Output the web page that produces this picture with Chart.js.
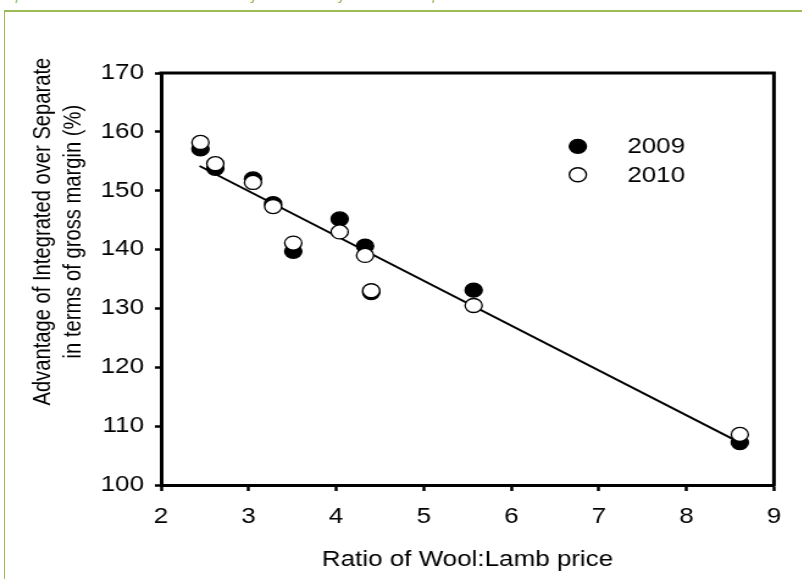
<!DOCTYPE html>
<html>
<head>
<meta charset="utf-8">
<script src="https://cdn.jsdelivr.net/npm/chart.js@4/dist/chart.umd.min.js"></script>
<style>
  html, body { margin: 0; padding: 0; background: #ffffff; }
  #page { position: relative; width: 802px; height: 579px; overflow: hidden; background: #ffffff; }
  #caption { position: absolute; left: 0px; top: -19px; font: italic 17px "Open Sans", sans-serif; color: #9bbb59; white-space: nowrap; }
  #frame { position: absolute; left: 4px; top: 10px; width: 1000px; height: 1000px; border-top: 2px solid #9bbb59; border-left: 1.5px solid #9bbb59; }
  #wrap { position: absolute; left: 0; top: 0; width: 658px; height: 579px; transform: scaleX(1.22); transform-origin: 0 0; }
  canvas { display: block; }
</style>
</head>
<body>
<div id="page">
  <div id="caption">separate scenarios at each level of the ratio of wool:lamb price used.</div>
  <div id="frame"></div>
  <div id="wrap"><canvas id="c" width="658" height="579"></canvas></div>
</div>
<script>
// ---- data ----
const ratioX      = [2.45, 2.62, 3.05, 3.28, 3.51, 4.04, 4.33, 4.40, 5.57, 8.61];
const adv2009     = [157.1, 153.8, 152.0, 147.8, 139.7, 145.2, 140.6, 132.7, 133.1, 107.2];
const adv2010     = [158.2, 154.6, 151.4, 147.3, 141.1, 143.0, 139.0, 133.0, 130.5, 108.6];
const trendX      = [2.44, 8.61];
const trendY      = [154.2, 107.2];
const seriesNames = ['2009', '2010'];
const xTitle      = 'Ratio of Wool:Lamb price';
const yTitleLines = ['Advantage of Integrated over Separate', 'in terms of gross margin (%)'];

const FONT = '"Liberation Sans", Arial, sans-serif';
const FS = 21.3;
const FS_YT = 20.2;

const pts = (xs, ys) => xs.map((x, i) => ({ x: x, y: ys[i] }));

const frameBox = {
  id: 'frameBox',
  afterDatasetsDraw(chart) {
    const { ctx, chartArea: a } = chart;
    ctx.save();
    ctx.strokeStyle = '#000';
    ctx.lineWidth = 3;
    ctx.beginPath();
    ctx.moveTo(a.left - 1.5, a.top);
    ctx.lineTo(a.right, a.top);
    ctx.lineTo(a.right, a.bottom + 1.5);
    ctx.stroke();
    ctx.restore();
  }
};

const yTitle = {
  id: 'yTitle',
  afterDraw(chart) {
    const { ctx, chartArea: a } = chart;
    const cy = a.top + 0.385 * (a.bottom - a.top);
    const xs = [a.left - 91, a.left - 66.4];
    ctx.save();
    ctx.fillStyle = '#000';
    ctx.font = FS_YT + 'px ' + FONT;
    ctx.textAlign = 'center';
    ctx.textBaseline = 'alphabetic';
    yTitleLines.forEach((t, i) => {
      ctx.save();
      ctx.translate(xs[i], cy);
      ctx.rotate(-Math.PI / 2);
      ctx.fillText(t, 0, 0);
      ctx.restore();
    });
    ctx.restore();
  }
};

const innerLegend = {
  id: 'innerLegend',
  afterDraw(chart) {
    const { ctx, chartArea: a } = chart;
    const w = a.right - a.left, h = a.bottom - a.top;
    const mx = a.left + 0.68 * w;
    const ys = [a.top + 0.178 * h, a.top + 0.247 * h];
    ctx.save();
    ctx.font = FS + 'px ' + FONT;
    ctx.textAlign = 'left';
    ctx.textBaseline = 'middle';
    [0, 1].forEach(i => {
      const ds = chart.data.datasets[i];
      ctx.beginPath();
      ctx.arc(mx, ys[i], ds.pointRadius, 0, Math.PI * 2);
      ctx.fillStyle = ds.pointBackgroundColor;
      ctx.fill();
      ctx.lineWidth = ds.pointBorderWidth;
      ctx.strokeStyle = ds.pointBorderColor;
      ctx.stroke();
      ctx.fillStyle = '#000';
      ctx.fillText(ds.label, mx + 40.5, ys[i] + 1);
    });
    ctx.restore();
  }
};

new Chart(document.getElementById('c'), {
  type: 'scatter',
  data: {
    datasets: [
      {
        label: seriesNames[0],
        data: pts(ratioX, adv2009),
        pointRadius: 7,
        pointBackgroundColor: '#000000',
        pointBorderColor: '#000000',
        pointBorderWidth: 1.3,
        showLine: false,
        order: 1
      },
      {
        label: seriesNames[1],
        data: pts(ratioX, adv2010),
        pointRadius: 7,
        pointBackgroundColor: '#ffffff',
        pointBorderColor: '#000000',
        pointBorderWidth: 1.3,
        showLine: false,
        order: 0
      },
      {
        label: 'fit',
        data: pts(trendX, trendY),
        showLine: true,
        borderColor: '#000000',
        borderWidth: 2,
        pointRadius: 0,
        fill: false,
        order: 2
      }
    ]
  },
  options: {
    responsive: false,
    animation: false,
    events: [],
    layout: { padding: { top: 73, right: 23.6, bottom: 0, left: 0 } },
    plugins: { legend: { display: false }, tooltip: { enabled: false }, title: { display: false } },
    scales: {
      x: {
        type: 'linear',
        min: 2, max: 9,
        afterFit(s) { s.height = 94; },
        ticks: { stepSize: 1, color: '#000', padding: 13.5, font: { family: FONT, size: FS } },
        grid: { drawOnChartArea: false, drawTicks: true, tickLength: 6, tickWidth: 2.5, tickColor: '#000' },
        border: { display: true, color: '#000', width: 3 },
        title: { display: true, text: xTitle, color: '#000', font: { family: FONT, size: FS }, padding: { top: 0, bottom: 6 } }
      },
      y: {
        type: 'linear',
        min: 100, max: 170,
        afterFit(s) { s.width = 132; },
        ticks: { stepSize: 10, color: '#000', padding: 9, font: { family: FONT, size: FS } },
        grid: { drawOnChartArea: false, drawTicks: true, tickLength: 5, tickWidth: 2.5, tickColor: '#000' },
        border: { display: true, color: '#000', width: 3 }
      }
    }
  },
  plugins: [frameBox, yTitle, innerLegend]
});
</script>
</body>
</html>
